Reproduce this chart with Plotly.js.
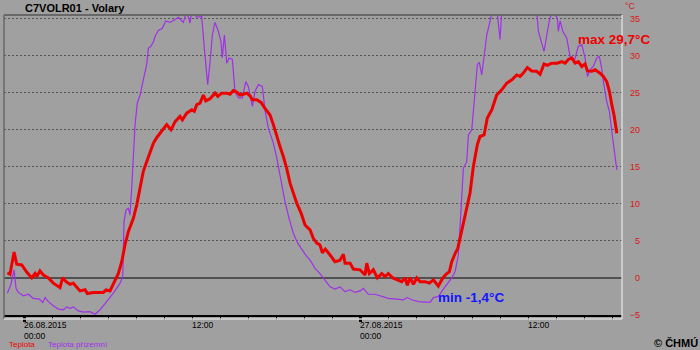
<!DOCTYPE html>
<html>
<head>
<meta charset="utf-8">
<script src="https://cdn.plot.ly/plotly-3.0.1.min.js"></script>
<style>html,body{margin:0;padding:0;background:#a0a0a0;}#chart{width:700px;height:350px;}</style>
</head>
<body>
<div id="chart"></div>
<script>
// hours after 26.08.2015 00:00
const airHours = [-1.19,-1.0,-0.71,-0.52,-0.16,0.19,0.55,0.79,0.91,1.14,1.38,1.74,2.09,2.57,2.76,3.0,3.29,3.52,4.0,4.36,4.52,4.95,5.66,5.86,6.14,6.5,6.74,6.98,7.21,7.45,7.81,8.05,8.29,8.52,8.76,9.0,9.24,9.5,9.84,10.19,10.5,10.79,11.14,11.31,11.62,11.98,12.16,12.34,12.57,12.81,12.98,13.29,13.64,13.84,14.12,14.48,14.71,14.95,15.19,15.43,15.66,15.91,16.14,16.31,16.62,16.93,17.21,17.57,17.81,18.05,18.29,18.52,18.76,19.0,19.24,19.48,19.79,20.07,20.43,20.66,20.91,21.14,21.31,21.52,21.86,22.21,22.57,22.81,22.93,23.29,23.52,24.0,24.36,24.48,24.66,24.95,25.24,25.55,25.79,26.02,26.34,26.62,26.98,27.21,27.38,27.57,27.81,28.05,28.29,28.64,28.95,29.24,29.59,29.91,30.14,30.38,30.55,30.79,30.98,31.14,31.38,31.62,31.86,32.09,32.38,32.57,32.86,33.09,33.41,33.76,34.12,34.48,34.84,35.19,35.43,35.66,35.95,36.26,36.62,36.86,37.14,37.38,37.69,38.09,38.41,38.64,38.88,39.12,39.36,39.59,39.84,40.07,40.24,40.55,40.79,41.14,41.38,41.62,41.81,41.98,42.14,42.34];
const airTemp  = [0.7,0.5,3.5,1.85,1.75,0.8,0.0,0.6,0.2,0.95,0.4,0.0,-0.7,-1.3,0.05,-0.5,-0.85,-0.7,-1.75,-1.6,-2.1,-1.95,-1.95,-1.6,-1.75,-0.3,0.6,2.2,4.45,6.25,8.05,9.85,12.3,14.4,15.7,17.1,18.2,19.0,19.8,20.7,20.0,21.1,21.8,21.35,22.25,22.7,22.5,23.4,23.6,24.7,23.9,24.2,24.95,24.5,24.95,24.95,24.8,25.3,25.1,24.7,24.8,24.95,24.6,24.05,24.05,23.7,22.9,22.0,20.7,19.1,17.7,16.4,14.8,12.8,11.4,10.1,8.75,7.15,6.5,5.35,4.7,4.45,3.4,3.9,3.1,2.2,2.4,3.2,2.0,2.0,1.2,1.1,0.4,2.0,0.6,1.1,0.0,0.6,0.2,0.6,0.0,-0.25,-0.5,0.0,-1.0,0.05,-0.85,0.0,-0.5,-0.5,-0.7,-0.25,-1.1,0.0,0.5,0.85,2.2,3.3,4.0,5.35,7.4,9.4,11.5,15.0,18.0,19.1,19.3,21.6,22.7,24.7,25.4,26.3,26.75,27.4,27.2,27.65,28.4,27.95,27.9,27.5,28.9,28.7,29.0,29.0,29.2,29.0,29.5,29.7,29.0,29.2,28.55,28.9,27.95,27.9,28.1,27.65,27.2,26.5,25.2,23.4,22.0,19.55];

const groundHours = [-1.19,-0.95,-0.71,-0.57,-0.41,-0.05,0.31,0.66,1.09,1.34,1.5,1.74,2.09,2.45,2.81,3.05,3.29,3.52,3.88,4.24,4.71,5.07,5.43,5.91,6.38,6.86,7.05,7.14,7.29,7.45,7.57,7.69,7.81,7.93,8.09,8.29,8.52,8.76,8.88,9.05,9.24,9.36,9.59,9.88,10.12,10.43,10.79,11.02,11.38,11.62,11.86,11.98,12.34,12.69,12.88,13.12,13.29,13.45,13.64,13.88,14.07,14.16,14.31,14.48,14.64,14.88,15.07,15.31,15.59,15.84,16.02,16.31,16.5,16.74,17.02,17.21,17.45,17.81,18.05,18.36,18.64,18.93,19.24,19.55,19.84,20.19,20.43,20.79,21.14,21.5,21.86,22.21,22.57,22.93,23.29,23.64,24.0,24.24,24.59,25.07,25.55,26.02,26.62,27.09,27.38,27.69,28.16,28.64,29.0,29.24,29.59,29.91,30.19,30.55,30.79,31.02,31.19,31.38,31.62,31.74,31.98,32.21,32.38,32.52,32.69,32.86,33.05,33.29,33.43,33.79,33.88,34.0,34.12,34.6,35.2,35.8,36.4,36.62,36.74,36.98,37.14,37.34,37.52,37.71,38.09,38.16,38.29,38.48,38.76,39.0,39.29,39.59,39.84,40.07,40.24,40.43,40.66,40.91,41.09,41.26,41.38,41.62,41.81,41.98,42.14,42.34];
const groundTemp  = [-2.05,-0.95,1.1,-1.4,-1.95,-2.4,-2.2,-2.75,-2.85,-3.3,-2.65,-3.2,-3.75,-4.2,-4.3,-3.9,-4.1,-3.9,-4.45,-4.6,-4.55,-4.9,-4.3,-3.2,-2.05,-0.7,0.2,7.6,9.2,9.4,8.5,12.1,17.5,20.7,23.6,24.7,26.75,28.8,31.0,31.25,31.9,32.6,33.4,33.7,34.7,34.5,34.9,35.2,34.5,36.0,34.4,36.0,35.2,35.3,31.0,26.1,29.2,32.8,34.5,33.3,31.9,29.7,32.8,29.0,29.7,29.5,25.2,24.3,24.3,26.5,25.85,23.15,25.2,26.1,25.85,22.7,20.2,18.2,16.2,13.0,10.3,8.05,6.0,4.7,3.8,2.9,2.4,1.3,0.6,-0.25,-1.2,-1.5,-1.2,-1.85,-1.6,-1.95,-1.75,-1.4,-2.2,-2.2,-2.5,-2.75,-2.85,-2.95,-2.65,-2.95,-3.2,-3.3,-3.3,-2.65,-2.5,-1.6,-0.95,0.0,0.85,3.1,8.5,14.8,15.7,19.3,20.0,25.2,28.8,29.1,27.4,29.9,32.8,34.7,36.0,36.0,34.7,32.2,36.0,36.0,36.0,36.0,36.0,36.0,33.3,31.7,30.6,32.8,34.7,36.0,35.1,33.3,34.7,33.3,32.4,29.9,29.2,31.25,31.5,29.7,27.2,28.1,28.55,29.7,29.9,28.3,26.5,23.8,22.5,19.8,17.7,14.6];

const seriesNames = ["Teplota", "Teplota přízemní"];
const yTickValues = [-5, 0, 5, 10, 15, 20, 25, 30, 35];
const xTickHours = [0, 12, 24, 36];
const xTickLabels = ["26.08.2015<br>00:00", "12:00", "27.08.2015<br>00:00", "12:00"];
const maxLabel = "max 29,7°C";
const minLabel = "min -1,4°C";

const RED = '#ee0000';
const PURPLE = '#a030e8';
const BG = '#a0a0a0';
const FONT = 'Liberation Sans, Arial, sans-serif';

const traces = [
  {x: groundHours, y: groundTemp, name: seriesNames[1], type: 'scatter', mode: 'lines',
   line: {color: PURPLE, width: 1.2}, hoverinfo: 'skip'},
  {x: airHours, y: airTemp, name: seriesNames[0], type: 'scatter', mode: 'lines',
   line: {color: RED, width: 3}, hoverinfo: 'skip'}
];

const annotations = [];
xTickHours.forEach((h, i) => {
  annotations.push({x: h, xref: 'x', y: 0, yref: 'paper', yanchor: 'top', yshift: -3,
    xanchor: 'left', xshift: -2, align: 'left', showarrow: false, text: xTickLabels[i],
    font: {family: FONT, size: 8.5, color: '#000'}});
});
annotations.push({x: 39.45, y: 32.2, xref: 'x', yref: 'y', xanchor: 'left', yanchor: 'middle',
  showarrow: false, text: '<b>' + maxLabel + '</b>', font: {family: FONT, size: 13.5, color: RED}});
annotations.push({x: 29.45, y: -2.7, xref: 'x', yref: 'y', xanchor: 'left', yanchor: 'middle',
  showarrow: false, text: '<b>' + minLabel + '</b>', font: {family: FONT, size: 13.5, color: '#1515ff'}});
annotations.push({x: 0, xref: 'paper', xshift: 3, y: 0, yref: 'paper', yshift: -29, xanchor: 'left', yanchor: 'middle',
  showarrow: false, text: seriesNames[0], font: {family: FONT, size: 8, color: RED}});
annotations.push({x: 0, xref: 'paper', xshift: 42, y: 0, yref: 'paper', yshift: -29, xanchor: 'left', yanchor: 'middle',
  showarrow: false, text: seriesNames[1], font: {family: FONT, size: 8, color: PURPLE}});
annotations.push({x: 1, xref: 'paper', xshift: 60, y: 0, yref: 'paper', yshift: -28, xanchor: 'right', yanchor: 'middle',
  showarrow: false, text: '<b>© ČHMÚ</b>', font: {family: FONT, size: 11, color: '#000'}});
annotations.push({x: 1, xref: 'paper', xshift: -2, y: 1, yref: 'paper', yshift: 9, xanchor: 'right', yanchor: 'middle',
  showarrow: false, text: '°C', font: {family: FONT, size: 9, color: '#cc2020'}});

const shapes = [
  {type: 'line', xref: 'x domain', yref: 'y domain', x0: 0, x1: 1, y0: 1, y1: 1, line: {color: '#686868', width: 2}},
  {type: 'line', xref: 'x domain', yref: 'y domain', x0: 0, x1: 0, y0: -0.0133, y1: 1, line: {color: '#686868', width: 1.5}},
  {type: 'line', xref: 'x domain', yref: 'y domain', x0: 1, x1: 1, y0: -0.0133, y1: 1, line: {color: '#d8d8d8', width: 1.5}},
  {type: 'line', xref: 'x domain', yref: 'y domain', x0: 0, x1: 1, y0: -0.0133, y1: -0.0133, line: {color: '#d8d8d8', width: 1.5}}
];

const layout = {
  width: 700, height: 350,
  margin: {l: 4, r: 60, t: 15, b: 35, pad: 0},
  paper_bgcolor: BG, plot_bgcolor: BG,
  showlegend: false,
  title: {text: '<b>C7VOLR01 - Volary</b>', x: 25/700, xref: 'container', xanchor: 'left',
          y: 1 - 8/350, yref: 'container', yanchor: 'middle',
          font: {family: FONT, size: 11, color: '#000'}},
  xaxis: {
    domain: [0, 618/636], range: [-1.43, 42.71], type: 'linear',
    showgrid: false, zeroline: false,
    showline: true, linecolor: '#000', linewidth: 2,
    tickmode: 'array', tickvals: [0, 24], ticks: 'outside', ticklen: 5, tickwidth: 3, tickcolor: '#000',
    showticklabels: false,
    minor: {tickmode: 'linear', tick0: 0, dtick: 2, ticks: 'outside', ticklen: 3, tickwidth: 1, tickcolor: '#000', showgrid: false}
  },
  yaxis: {
    anchor: 'free', position: 1, side: 'left', overlaying: undefined,
    range: [-5, 35.5], tickmode: 'array', tickvals: yTickValues,
    ticks: '', showline: false,
    showgrid: true, gridcolor: '#555555', gridwidth: 1, griddash: '2px,2px',
    zeroline: true, zerolinecolor: '#505050', zerolinewidth: 2.5,
    tickfont: {family: FONT, size: 9, color: '#dd1515'}
  },
  annotations: annotations,
  shapes: shapes
};

Plotly.newPlot('chart', traces, layout, {staticPlot: true, displayModeBar: false});
</script>
</body>
</html>
